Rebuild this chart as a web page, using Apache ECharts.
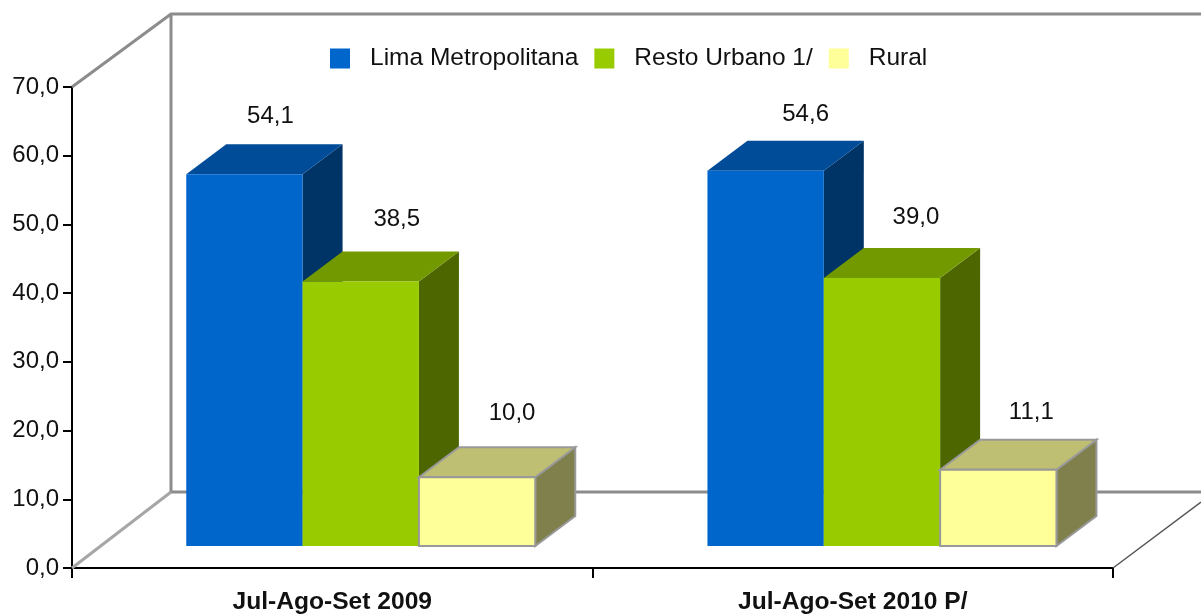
<!DOCTYPE html>
<html>
<head>
<meta charset="utf-8">
<title>Chart</title>
<style>
html, body { margin: 0; padding: 0; background: #fff; overflow: hidden; }
#chart { width: 1201px; height: 615px; }
</style>
<script src="https://cdn.jsdelivr.net/npm/echarts@6/dist/echarts.min.js"></script>
</head>
<body>
<div id="chart"></div>
<script>
var categories = ['Jul-Ago-Set 2009', 'Jul-Ago-Set 2010 P/'];
var seriesNames = ['Lima Metropolitana', 'Resto Urbano 1/', 'Rural'];
var limaValues = [54.1, 54.6];
var restoValues = [38.5, 39.0];
var ruralValues = [10.0, 11.1];
var yTicks = [0, 70, 10];

// front, top, side
var blueFaces = ['#0066cc', '#004c99', '#003366'];
var greenFaces = ['#99cc00', '#739900', '#4d6600'];
var yellowFaces = ['#ffff99', '#bfbf73', '#80804d'];

// where each value label sits, relative to the top centre of the front face
var limaLabelShift = [[26, -58], [40, -56]];
var restoLabelShift = [[36, -62], [34, -61]];
var ruralLabelShift = [[35, -64], [33, -57]];

var FONT = '"Liberation Sans", Arial, sans-serif';
var gridLeft = 72, gridRight = 1113, gridTop = 87, gridBottom = 568;
var wallX = 171, wallTop = 14, floorBack = 492;

function comma(v) {
    return v.toFixed(1).replace('.', ',');
}

function barRenderer(slot, faces, labelShift, edge) {
    return function (params, api) {
        var index = api.value(0);
        var bottom = api.coord([index, 0]);
        var top = api.coord([index, api.value(1)]);
        var band = api.size([1, 0])[0];
        var w = band * 0.2235;
        var left = bottom[0] + 28.5 + (slot - 1.5) * w + index * 0.7;
        var yOff = 22, dx = 40, dy = 30;
        var x0 = left, x1 = left + w, y0 = top[1] - yOff, y1 = bottom[1] - yOff;
        var lineStyle = edge ? { stroke: edge, lineWidth: 2 } : {};

        return {
            type: 'group',
            children: [
                {
                    type: 'polygon',
                    shape: { points: [[x1, y0], [x1 + dx, y0 - dy], [x1 + dx, y1 - dy], [x1, y1]] },
                    style: Object.assign({ fill: faces[2] }, lineStyle)
                },
                {
                    type: 'polygon',
                    shape: { points: [[x0, y0], [x0 + dx, y0 - dy], [x1 + dx, y0 - dy], [x1, y0]] },
                    style: Object.assign({ fill: faces[1] }, lineStyle)
                },
                {
                    type: 'rect',
                    shape: { x: x0, y: y0, width: w, height: y1 - y0 },
                    style: Object.assign({ fill: faces[0] }, lineStyle)
                },
                {
                    type: 'text',
                    x: left + w / 2 + labelShift[index][0],
                    y: y0 + labelShift[index][1],
                    style: {
                        text: comma(api.value(1)),
                        font: '24px ' + FONT,
                        fill: '#111',
                        align: 'center',
                        verticalAlign: 'middle'
                    }
                }
            ]
        };
    };
}

function barSeries(name, slot, values, faces, labelShift, edge) {
    return {
        name: name,
        type: 'custom',
        coordinateSystem: 'cartesian2d',
        clip: false,
        z: 3,
        itemStyle: { color: faces[0] },
        encode: { x: 0, y: 1 },
        data: values.map(function (v, i) { return [i, v]; }),
        renderItem: barRenderer(slot, faces, labelShift, edge)
    };
}

function wallLine(points, color, width) {
    return {
        type: 'polyline',
        z: 1,
        shape: { points: points },
        style: { stroke: color, lineWidth: width, fill: null }
    };
}

var myChart = echarts.init(document.getElementById('chart'));

var option = {
    animation: false,
    backgroundColor: '#fff',
    grid: {
        left: gridLeft,
        top: gridTop,
        width: gridRight - gridLeft,
        height: gridBottom - gridTop,
        outerBoundsMode: 'none'
    },
    legend: {
        left: 325,
        top: 41,
        itemWidth: 20,
        itemHeight: 20,
        itemGap: 16,
        icon: 'rect',
        data: seriesNames,
        textStyle: { fontFamily: FONT, fontSize: 24.5, color: '#111', padding: [0, 0, 0, 15] }
    },
    graphic: [
        wallLine([[gridLeft, gridTop], [wallX, wallTop], [1201, wallTop]], '#8c8c8c', 3),
        wallLine([[wallX, wallTop], [wallX, floorBack], [1201, floorBack]], '#8c8c8c', 3),
        wallLine([[gridLeft, gridBottom], [wallX, floorBack]], '#a6a6a6', 3),
        wallLine([[gridRight, gridBottom], [1201, 502]], '#555', 1.5)
    ],
    xAxis: {
        type: 'category',
        data: categories,
        axisLine: { lineStyle: { color: '#000', width: 2 } },
        axisTick: { show: true, alignWithLabel: false, interval: 0, length: 10, lineStyle: { color: '#000', width: 2 } },
        axisLabel: { fontFamily: FONT, fontSize: 24.6, fontWeight: 'bold', color: '#111', margin: 22 }
    },
    yAxis: {
        type: 'value',
        min: yTicks[0],
        max: yTicks[1],
        interval: yTicks[2],
        splitLine: { show: false },
        axisLine: { show: true, lineStyle: { color: '#000', width: 2 } },
        axisTick: { show: true, length: 9, lineStyle: { color: '#000', width: 2 } },
        axisLabel: { fontFamily: FONT, fontSize: 24, color: '#111', margin: 13, padding: [4, 0, 0, 0], formatter: comma }
    },
    series: [
        barSeries(seriesNames[0], 0, limaValues, blueFaces, limaLabelShift),
        barSeries(seriesNames[1], 1, restoValues, greenFaces, restoLabelShift),
        barSeries(seriesNames[2], 2, ruralValues, yellowFaces, ruralLabelShift, '#999')
    ]
};

myChart.setOption(option);
</script>
</body>
</html>
